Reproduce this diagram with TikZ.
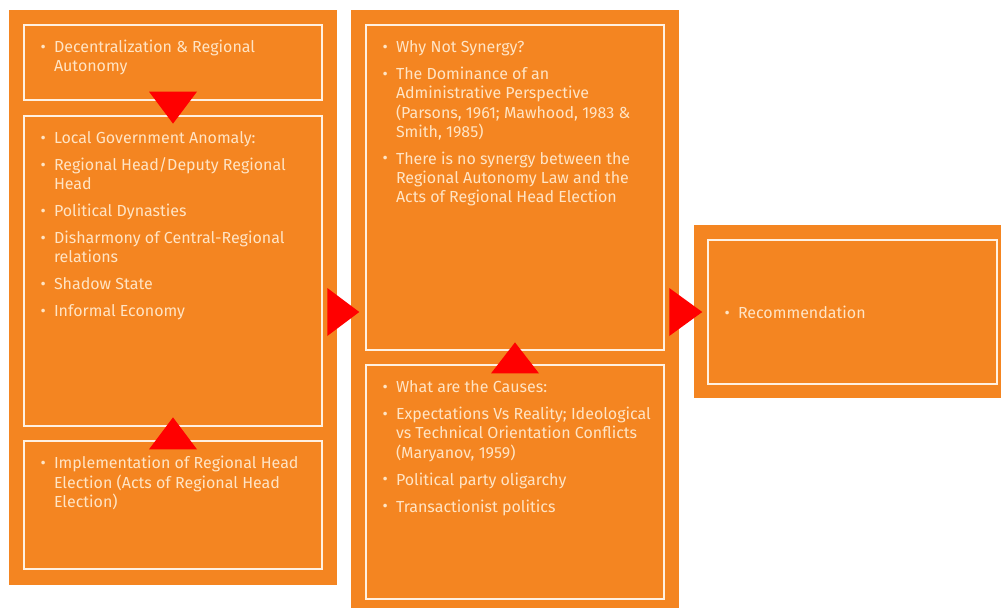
\documentclass[tikz,border=0pt]{standalone}
\usepackage{fontspec}
\setmainfont{Fira Sans}
\usetikzlibrary{positioning,fit,calc}
\definecolor{myorange}{RGB}{244,133,33}
\definecolor{mycream}{RGB}{255,228,196}
\definecolor{myline}{RGB}{255,240,225}
\definecolor{myred}{RGB}{255,0,0}
\newcommand{\bu}{\makebox[10pt][l]{\raisebox{0.6pt}{\scalebox{1.0}{\textbullet}}}}
\newcommand{\gap}{6pt}

\begin{document}
\begin{tikzpicture}[x=0.75pt,y=-0.75pt,
		col/.style={fill=myorange, draw=none, inner sep=0pt},
		ibox/.style={draw=myline, line width=0.9pt, inner sep=0pt},
		txt/.style={text=mycream, inner sep=0pt, anchor=north west, align=left,
			font=\fontsize{12}{14.25}\selectfont},
		tri/.style={fill=myred}]
		\useasboundingbox (0,0) rectangle (1001,608);
		
		%Columns
		\node[col, fit={(9,10) (337,585)}] (lo) {};
		\node[col, fit={(351,10) (679,608)}] (mo) {};
		\node[col, fit={(694,225) (1001,398)}] (ro) {};
		
		\node[ibox, fit={(24,25) (322,100)}] (l1) {};
		\node[ibox, fit={(24,116) (322,426)}] (l2) {};
		\node[ibox, fit={(24,441) (322,569)}] (l3) {};
		\node[ibox, fit={(366,25) (664,350)}] (m1) {};
		\node[ibox, fit={(366,365) (664,599)}] (m2) {};
		\node[ibox, fit={(708,240) (997,384)}] (r1) {};
		
		%Texts
		\node[txt] (t1) at ($(l1.north west)+(17,15)$) {\begin{tabular}{@{}l@{}l@{}}
				\bu & Decentralization \& Regional\\
				& Autonomy
			\end{tabular}};
		\node[txt] (t2) at ($(l2.north west)+(17,15)$) {\begin{tabular}{@{}l@{}l@{}}
				\bu & Local Government Anomaly:\\[\gap]
				\bu & Regional Head/Deputy Regional\\
				& Head\\[\gap]
				\bu & Political Dynasties\\[\gap]
				\bu & Disharmony of Central-Regional\\
				& relations\\[\gap]
				\bu & Shadow State\\[\gap]
				\bu & Informal Economy
			\end{tabular}};
		\node[txt] (t3) at ($(l3.north west)+(17,15)$) {\begin{tabular}{@{}l@{}l@{}}
				\bu & Implementation of Regional Head\\
				& Election (Acts of Regional Head\\
				& Election)
			\end{tabular}};
		\node[txt] (t4) at ($(m1.north west)+(17,15)$) {\begin{tabular}{@{}l@{}l@{}}
				\bu & Why Not Synergy?\\[\gap]
				\bu & The Dominance of an\\
				& Administrative Perspective\\
				& (Parsons, 1961; Mawhood, 1983 \&\\
				& Smith, 1985)\\[\gap]
				\bu & There is no synergy between the\\
				& Regional Autonomy Law and the\\
				& Acts of Regional Head Election
			\end{tabular}};
		\node[txt] (t5) at ($(m2.north west)+(17,15)$) {\begin{tabular}{@{}l@{}l@{}}
				\bu & What are the Causes:\\[\gap]
				\bu & Expectations Vs Reality; Ideological\\
				& vs Technical Orientation Conflicts\\
				& (Maryanov, 1959)\\[\gap]
				\bu & Political party oligarchy\\[\gap]
				\bu & Transactionist politics
			\end{tabular}};
		\node[txt, anchor=west] (t6) at ($(r1.west)+(17,3)$) {\begin{tabular}{@{}l@{}l@{}}
				\bu & Recommendation
			\end{tabular}};
		
		%Arrow heads
		\fill[tri] ($(l1.south)+(-24,-9)$) -- ($(l1.south)+(24,-9)$) -- ($(l1.south)+(0,23)$) -- cycle;
		\fill[tri] ($(l3.north)+(-24,9)$) -- ($(l3.north)+(24,9)$) -- ($(l3.north)+(0,-23)$) -- cycle;
		\fill[tri] ($(m2.north)+(-24,9)$) -- ($(m2.north)+(24,9)$) -- ($(m2.north)+(0,-22)$) -- cycle;
		
		\coordinate (a1) at (lo.east |- r1.west);
		\coordinate (a2) at (mo.east |- r1.west);
		\fill[tri] ($(a1)+(-10,-24)$) -- ($(a1)+(-10,24)$) -- ($(a1)+(22,0)$) -- cycle;
		\fill[tri] ($(a2)+(-10,-24)$) -- ($(a2)+(-10,24)$) -- ($(a2)+(23,0)$) -- cycle;
		
	\end{tikzpicture}
\end{document}
